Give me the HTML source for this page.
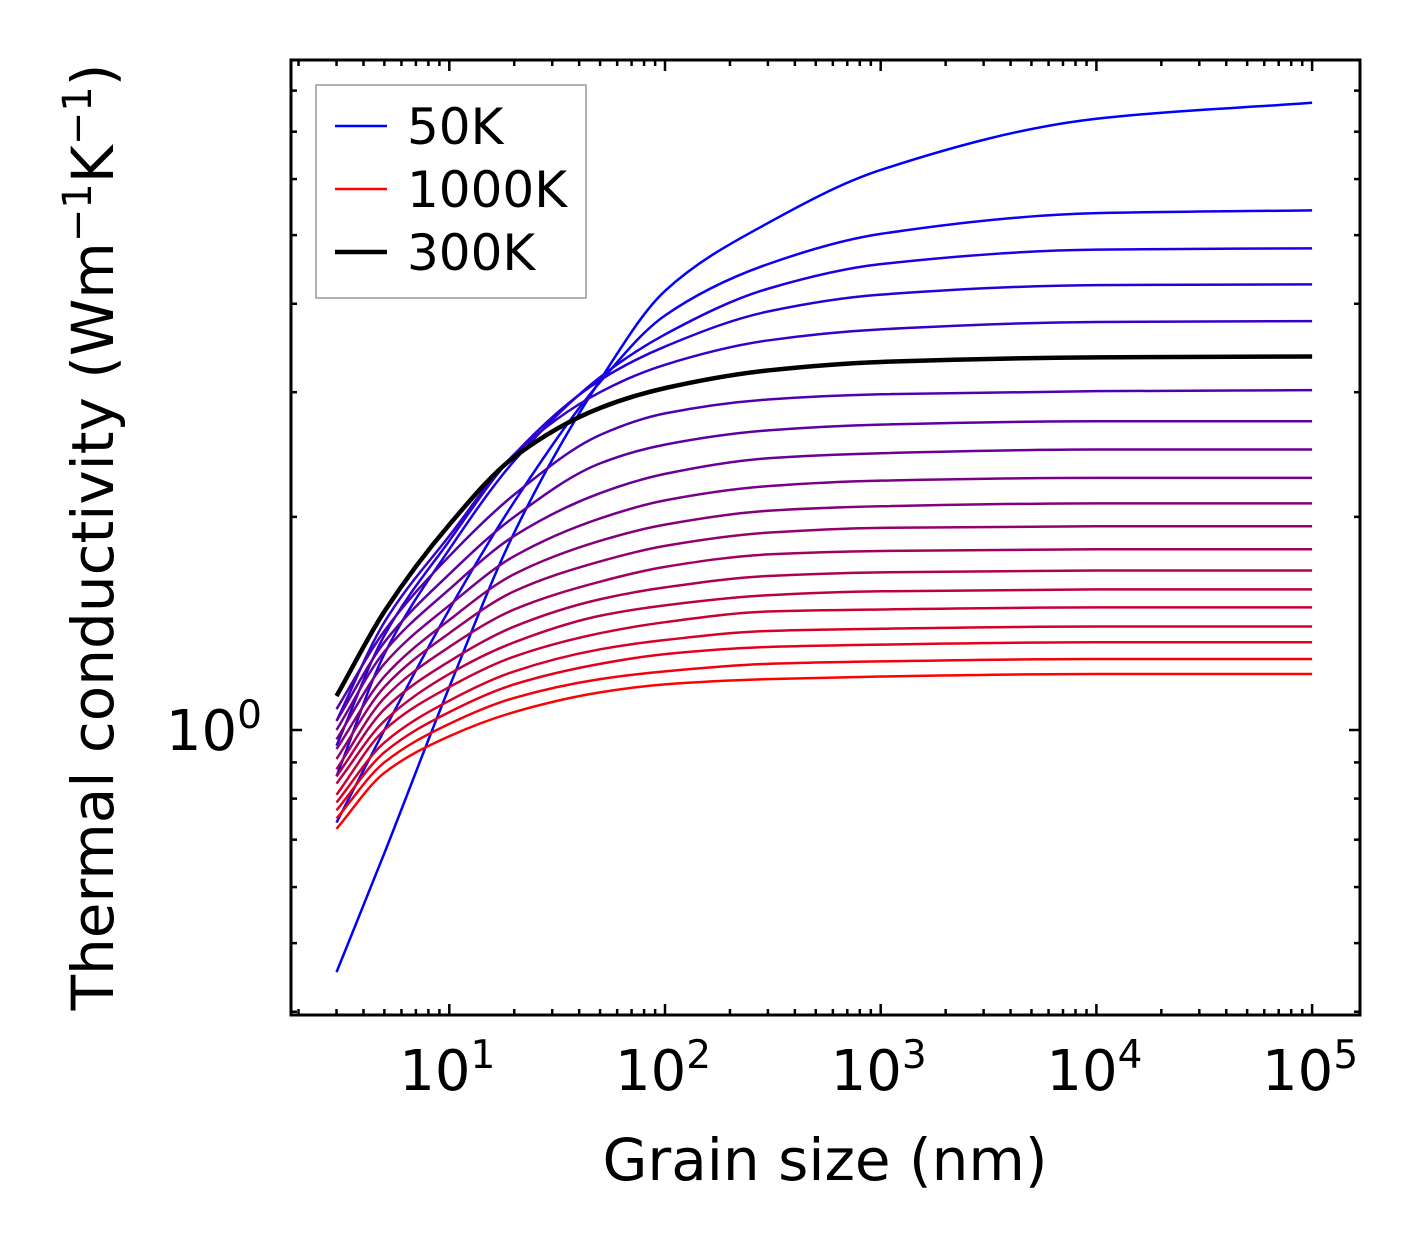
<!DOCTYPE html>
<html><head><meta charset="utf-8"><style>
html,body{margin:0;padding:0;background:#fff;}
svg{display:block;font-family:"DejaVu Sans","Liberation Sans",sans-serif;}
</style></head><body>
<svg id="chart" width="1421" height="1254" viewBox="0 0 1421 1254" xmlns="http://www.w3.org/2000/svg">
<rect x="0" y="0" width="1421" height="1254" fill="#fff"/>
<g id="series"></g>
<g id="ticks"></g>
<rect x="291" y="60" width="1069" height="955" fill="none" stroke="#000" stroke-width="3"/>
<g id="xlabels" font-size="56" text-anchor="middle"></g>
<text x="262" y="750" font-size="56" text-anchor="end">10<tspan dy="-22" font-size="39">0</tspan></text>
<text x="825" y="1180" font-size="58" text-anchor="middle">Grain size (nm)</text>
<text transform="translate(113,537) rotate(-90)" font-size="58" text-anchor="middle">Thermal conductivity (Wm<tspan dy="-22" font-size="40">−1</tspan><tspan dy="22">K</tspan><tspan dy="-22" font-size="40">−1</tspan><tspan dy="22">)</tspan></text>
<g>
<rect x="316" y="85" width="270" height="213" fill="#fff" stroke="#999" stroke-width="1.5"/>
<line x1="335" y1="126" x2="387" y2="126" stroke="#0000ff" stroke-width="2.5"/>
<text x="407" y="144" font-size="50">50K</text>
<line x1="335" y1="189" x2="387" y2="189" stroke="#ff0000" stroke-width="2.5"/>
<text x="407" y="207" font-size="50">1000K</text>
<line x1="335" y1="252" x2="387" y2="252" stroke="#000" stroke-width="4.5"/>
<text x="407" y="270" font-size="50">300K</text>
</g>
</svg>
<script>
const grainSizes = [3,5,10,20,50,100,300,1000,10000,100000];
const temperatures = [50,100,150,200,250,300,350,400,450,500,550,600,650,700,750,800,850,900,950,1000];
const k50 = [0.455,0.67,1.15,1.9,3.12,4.17,5.2,6.18,7.3,7.69];
const k100 = [0.74,1.0,1.48,2.1,3.1,3.85,4.55,5.02,5.37,5.42];
const k150 = [0.86,1.28,1.8,2.4,3.15,3.62,4.2,4.55,4.77,4.79];
const k200 = [0.95,1.36,1.85,2.45,3.12,3.48,3.9,4.12,4.25,4.26];
const k250 = [1.03,1.42,1.88,2.45,3.0,3.28,3.55,3.68,3.77,3.78];
const k300 = [1.117,1.47,1.95,2.43,2.85,3.04,3.22,3.31,3.36,3.37];
const k350 = [1.07,1.38,1.76,2.15,2.61,2.8,2.93,2.98,3.01,3.02];
const k400 = [1.03,1.33,1.66,2.0,2.38,2.53,2.65,2.70,2.73,2.73];
const k450 = [1.0,1.29,1.58,1.88,2.16,2.30,2.42,2.46,2.49,2.49];
const k500 = [0.97,1.24,1.50,1.76,1.99,2.11,2.21,2.25,2.27,2.27];
const k550 = [0.94,1.19,1.43,1.66,1.85,1.95,2.04,2.07,2.09,2.09];
const k600 = [0.91,1.15,1.37,1.57,1.73,1.82,1.90,1.93,1.94,1.94];
const k650 = [0.88,1.11,1.31,1.48,1.62,1.70,1.77,1.79,1.80,1.80];
const k700 = [0.86,1.07,1.25,1.40,1.53,1.59,1.65,1.67,1.68,1.68];
const k750 = [0.84,1.03,1.20,1.33,1.45,1.50,1.55,1.57,1.58,1.58];
const k800 = [0.81,1.0,1.15,1.27,1.37,1.42,1.47,1.48,1.49,1.49];
const k850 = [0.79,0.96,1.10,1.21,1.30,1.34,1.38,1.39,1.40,1.40];
const k900 = [0.77,0.93,1.06,1.16,1.24,1.28,1.31,1.32,1.33,1.33];
const k950 = [0.75,0.90,1.02,1.11,1.18,1.21,1.24,1.25,1.26,1.26];
const k1000 = [0.725,0.87,0.98,1.06,1.13,1.16,1.18,1.19,1.20,1.20];
const allSeries = [k50,k100,k150,k200,k250,k300,k350,k400,k450,k500,k550,k600,k650,k700,k750,k800,k850,k900,k950,k1000];
const highlightIndex = 5;
const xTickExps = [1,2,3,4,5];

const NS = "http://www.w3.org/2000/svg";
const X0 = 449.3, XD = 215.7, Y0 = 730, YD = 708;
function xs(v){ return X0 + (Math.log10(v) - 1) * XD; }
function ys(v){ return Y0 - Math.log10(v) * YD; }
const L = 291, R = 1360, T = 60, B = 1015;

function pathFor(vals){
  const px = grainSizes.map(g => xs(g));
  const py = vals.map(v => ys(v));
  const n = px.length;
  const d = [], m = new Array(n);
  for (let i=0;i<n-1;i++) d.push((py[i+1]-py[i])/(px[i+1]-px[i]));
  m[0] = d[0]; m[n-1] = d[n-2];
  for (let i=1;i<n-1;i++){
    if (d[i-1]*d[i] <= 0) m[i] = 0;
    else {
      const h0 = px[i]-px[i-1], h1 = px[i+1]-px[i];
      const w1 = 2*h1+h0, w2 = h1+2*h0;
      m[i] = (w1+w2)/(w1/d[i-1] + w2/d[i]);
    }
  }
  let s = "M" + px[0].toFixed(2) + "," + py[0].toFixed(2);
  for (let i=0;i<n-1;i++){
    const h = px[i+1]-px[i];
    s += " C" + (px[i]+h/3).toFixed(2) + "," + (py[i]+m[i]*h/3).toFixed(2) + " " +
         (px[i+1]-h/3).toFixed(2) + "," + (py[i+1]-m[i+1]*h/3).toFixed(2) + " " +
         px[i+1].toFixed(2) + "," + py[i+1].toFixed(2);
  }
  return s;
}

const sg = document.getElementById("series");
allSeries.forEach((vals, i) => {
  const f = i/(allSeries.length-1);
  const el = document.createElementNS(NS, "path");
  el.setAttribute("d", pathFor(vals));
  el.setAttribute("fill", "none");
  el.setAttribute("stroke", "rgb(" + Math.round(255*f) + ",0," + Math.round(255*(1-f)) + ")");
  el.setAttribute("stroke-width", "2.5");
  
  
  sg.appendChild(el);
});
{
  const el = document.createElementNS(NS, "path");
  el.setAttribute("d", pathFor(allSeries[highlightIndex]));
  el.setAttribute("fill", "none");
  el.setAttribute("stroke", "#000");
  el.setAttribute("stroke-width", "4.5");
  
  
  sg.appendChild(el);
}

const tg = document.getElementById("ticks");
function tick(x1,y1,x2,y2){
  const l = document.createElementNS(NS,"line");
  l.setAttribute("x1",x1); l.setAttribute("y1",y1); l.setAttribute("x2",x2); l.setAttribute("y2",y2);
  l.setAttribute("stroke","#000"); l.setAttribute("stroke-width","2.5");
  
  
  tg.appendChild(l);
}
for (let e=0;e<=5;e++){
  for (let m=1;m<=9;m++){
    const v = m*Math.pow(10,e);
    const x = xs(v);
    if (x < L+1 || x > R-1) continue;
    const len = m===1 ? 11 : 6;
    tick(x,B,x,B-len); tick(x,T,x,T+len);
  }
}
for (let e=-1;e<=0;e++){
  for (let m=1;m<=9;m++){
    const v = m*Math.pow(10,e);
    const y = ys(v);
    if (y < T+1 || y > B-1) continue;
    const len = m===1 && e===0 ? 11 : 6;
    tick(L,y,L+len,y); tick(R,y,R-len,y);
  }
}
const xl = document.getElementById("xlabels");
xTickExps.forEach(e => {
  const t = document.createElementNS(NS,"text");
  t.setAttribute("x", xs(Math.pow(10,e)) - 2);
  t.setAttribute("y", 1090);
  t.innerHTML = '10<tspan dy="-22" font-size="39">' + e + '</tspan>';
  
  
  xl.appendChild(t);
});
</script>
</body></html>
